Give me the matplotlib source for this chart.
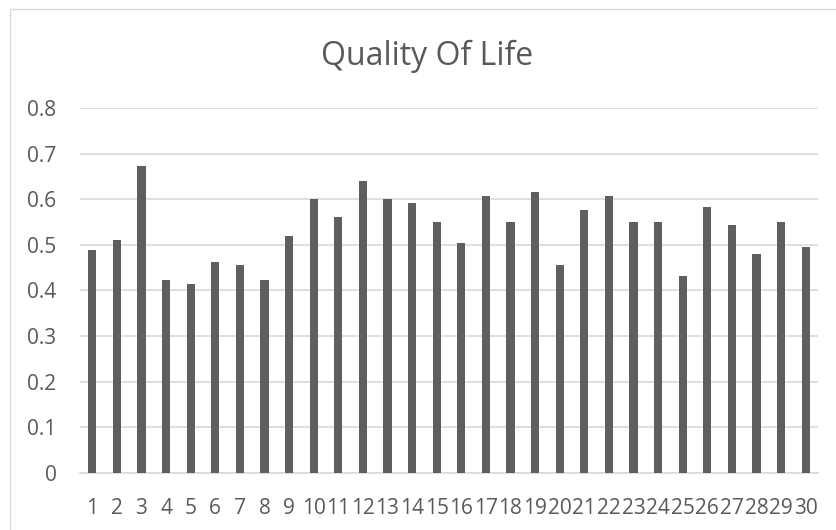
import matplotlib
matplotlib.use("Agg")
import matplotlib.pyplot as plt
from matplotlib.patches import Rectangle

categories = [str(i) for i in range(1, 31)]
values = [0.488, 0.511, 0.672, 0.423, 0.415, 0.463, 0.455, 0.423, 0.520, 0.600,
          0.560, 0.640, 0.600, 0.592, 0.551, 0.504, 0.607, 0.551, 0.616, 0.456,
          0.576, 0.607, 0.551, 0.551, 0.431, 0.583, 0.543, 0.480, 0.551, 0.496]
yticks = [0, 0.1, 0.2, 0.3, 0.4, 0.5, 0.6, 0.7, 0.8]
ytick_labels = ["0", "0.1", "0.2", "0.3", "0.4", "0.5", "0.6", "0.7", "0.8"]
title = "Quality Of Life"

plt.rcParams['font.family'] = ['Open Sans', 'DejaVu Sans']
text_color = '#595959'
W, H = 837, 530
fig = plt.figure(figsize=(W / 100, H / 100), dpi=100)
fig.patches.append(Rectangle((10 / W, -0.01), 1.0, 1 - 9 / H + 0.01, transform=fig.transFigure,
                             fill=False, edgecolor='#d9d9d9', linewidth=1.0))

ax = fig.add_axes([80 / W, 1 - 472.7 / H, (818 - 80) / W, (472.7 - 108) / H])
x = list(range(len(categories)))
ax.bar(x, values, width=0.33, color='#5f5f5f', zorder=3)
ax.set_xlim(-0.5, len(categories) - 0.5)
ax.set_ylim(0, 0.8)
ax.set_yticks(yticks)
ax.set_yticklabels(ytick_labels)
ax.set_xticks(x)
ax.set_xticklabels(categories)
ax.yaxis.grid(True, color='#d9d9d9', linewidth=1.2, zorder=0)
for s in ['top', 'right', 'left']:
    ax.spines[s].set_visible(False)
ax.spines['bottom'].set_color('#d9d9d9')
ax.spines['bottom'].set_linewidth(1.2)
ax.tick_params(axis='both', length=0, labelsize=15, labelcolor=text_color)
ax.tick_params(axis='y', pad=17)
ax.tick_params(axis='x', pad=18)

fig.text(427 / W, 1 - 65 / H, title, ha='center', va='baseline', fontsize=23, color=text_color)

fig.savefig('out.png', dpi=100)
